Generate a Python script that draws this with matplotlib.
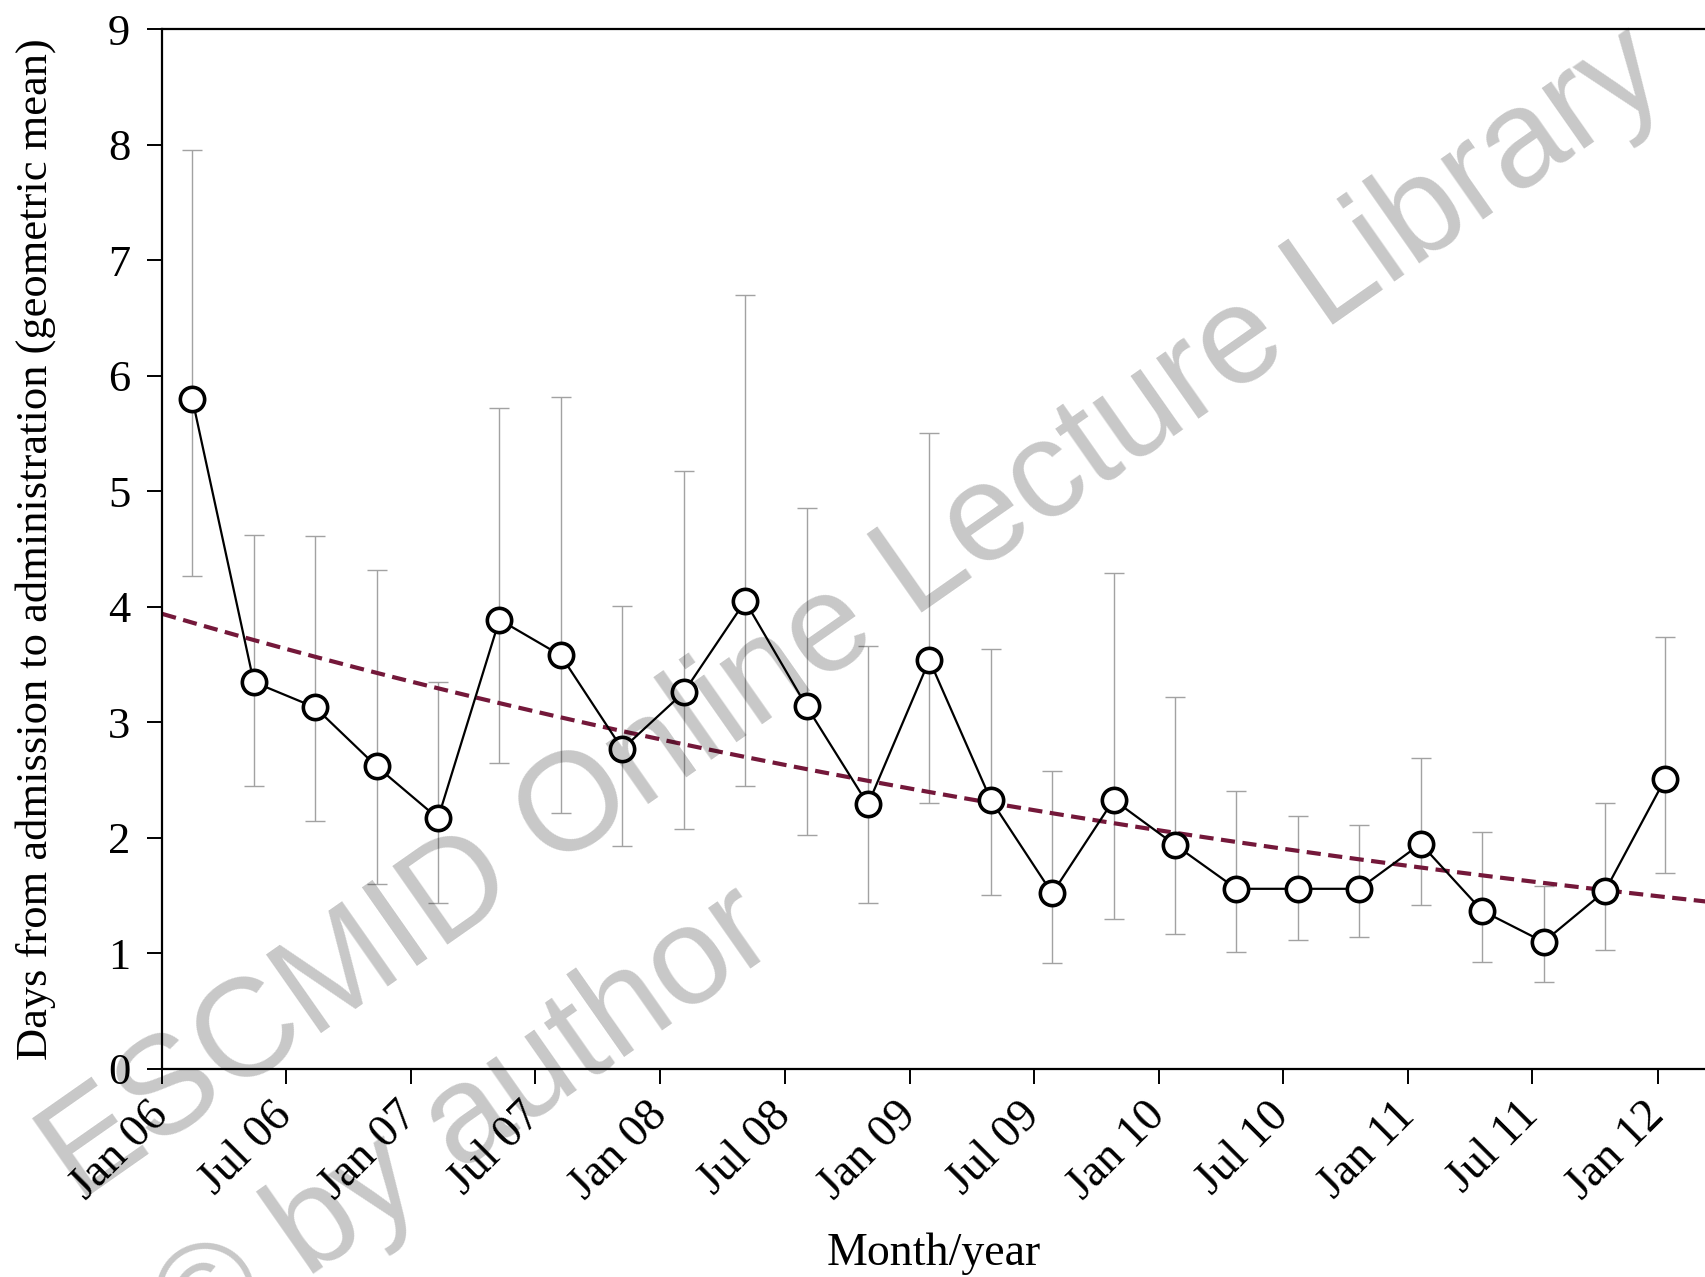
import numpy as np
import matplotlib
matplotlib.use("Agg")
import matplotlib.pyplot as plt

# ---- data ----
x_days = [44, 134, 224, 314, 404, 494, 584, 674, 764, 854, 944, 1034, 1124,
          1214, 1304, 1394, 1484, 1574, 1664, 1754, 1844, 1934, 2024, 2114, 2202]
gmean = [5.80, 3.35, 3.13, 2.62, 2.17, 3.89, 3.58, 2.77, 3.26, 4.05, 3.14, 2.29, 3.54,
         2.33, 1.52, 2.33, 1.94, 1.56, 1.56, 1.56, 1.95, 1.37, 1.10, 1.54, 2.51]
upper = [7.96, 4.62, 4.61, 4.32, 3.35, 5.72, 5.82, 4.01, 5.18, 6.70, 4.86, 3.66, 5.51,
         3.64, 2.58, 4.29, 3.22, 2.41, 2.19, 2.11, 2.69, 2.05, 1.58, 2.30, 3.74]
lower = [4.27, 2.45, 2.15, 1.60, 1.44, 2.65, 2.22, 1.93, 2.08, 2.45, 2.03, 1.44, 2.30,
         1.51, 0.92, 1.30, 1.17, 1.01, 1.12, 1.14, 1.42, 0.93, 0.75, 1.03, 1.70]

tick_labels = ["Jan 06", "Jul 06", "Jan 07", "Jul 07", "Jan 08", "Jul 08", "Jan 09",
               "Jul 09", "Jan 10", "Jul 10", "Jan 11", "Jul 11", "Jan 12"]
tick_dates = ["2006-01-01", "2006-07-01", "2007-01-01", "2007-07-01", "2008-01-01",
              "2008-07-01", "2009-01-01", "2009-07-01", "2010-01-01", "2010-07-01",
              "2011-01-01", "2011-07-01", "2012-01-01"]

trend_days = [0, 2262]
trend_vals = [3.94, 1.45]

# ---- figure ----
W, H = 1706, 1277
fig = plt.figure(figsize=(W / 100, H / 100), dpi=100)
plt.rcParams['font.family'] = ['Liberation Serif', 'DejaVu Serif']

ax = fig.add_axes([162.3 / W, (H - 1069) / H, (W - 162.3) / W, (1069 - 29.4) / H])

x = np.array(x_days, dtype=float)
y = np.array(gmean)
yerr = [y - np.array(lower), np.array(upper) - y]

ax.errorbar(x, y, yerr=yerr, fmt='none', ecolor='#a2a2a2', elinewidth=1.0,
            capsize=7, capthick=1.0, zorder=1)

# exponential trend between the two read end values
td = np.linspace(trend_days[0], trend_days[1], 200)
tv = np.geomspace(trend_vals[0], trend_vals[1], 200)
ax.plot(td, tv, color='#74183a', lw=3.0, dashes=(3.4, 1.8), zorder=2)

ax.plot(x, y, color='black', lw=1.6, marker='o', ms=17.5, mfc='white',
        mec='black', mew=2.6, zorder=3)

base = np.datetime64('2006-01-01')
tick_pos = [(np.datetime64(d) - base).astype(int) for d in tick_dates]
ax.set_xticks(tick_pos)
ax.set_xticklabels(tick_labels, rotation=45, ha='right', va='center',
                   rotation_mode='anchor', fontsize=33)
ax.set_yticks(range(0, 10))
ax.tick_params(axis='y', labelsize=32, length=11, width=1.4, pad=12, direction='out')
ax.tick_params(axis='x', length=11, width=1.4, pad=18, direction='out')

ax.set_xlim(trend_days[0], trend_days[1])
ax.set_ylim(0, 9)
ax.spines['right'].set_visible(False)
for s in ['left', 'bottom', 'top']:
    ax.spines[s].set_linewidth(1.6)

fig.text(36 / W, 1 - 549 / H, "Days from admission to administration (geometric mean)",
         rotation=90, ha='center', va='center', fontsize=32)
fig.text(934 / W, 1 - 1254 / H, "Month/year", ha='center', va='center', fontsize=33)

# watermark
fig.text(854 / W, 1 - 616 / H, "ESCMID Online Lecture Library", rotation=35,
         ha='center', va='center', fontsize=100, color='black', alpha=0.22,
         family='Liberation Sans', zorder=10)
fig.text(466 / W, 1 - 1124 / H, "\u00a9 by author", rotation=35,
         ha='center', va='center', fontsize=100, color='black', alpha=0.22,
         family='Liberation Sans', zorder=10)

fig.savefig("out.png", dpi=100, facecolor='white')
